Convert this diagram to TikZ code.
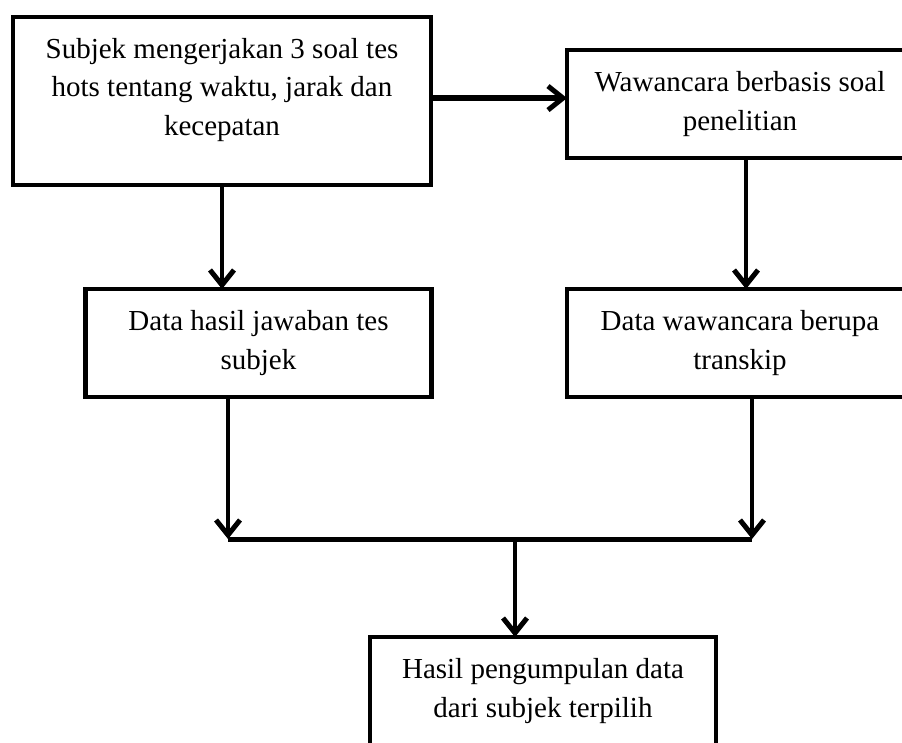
\documentclass[tikz,border=0pt]{standalone}
\usepackage{fontspec}
\setmainfont{Liberation Serif}
\usetikzlibrary{arrows.meta}

\begin{document}
\begin{tikzpicture}[x=1pt,y=-1pt,>={Straight Barb[length=15pt,width=24pt,line width=5pt]},
  box/.style={draw, line width=4.7pt, outer sep=0pt, anchor=north, align=center,
    minimum width=346pt, minimum height=108pt, inner ysep=21pt,
    font=\fontsize{29}{38.5}\selectfont},
  flow/.style={->, line width=4pt}]
  \useasboundingbox (0,0) rectangle (902,743);

  % Tes
  \node[box, minimum width=418pt] (tes) at (222,17) {Subjek mengerjakan 3 soal tes\\hots tentang waktu, jarak dan\\kecepatan\\[-9.5pt]\mbox{}};
  % Wawancara
  \node[box] (wawancara) at (740,50) {Wawancara berbasis soal\\penelitian};

  % Data
  \node[box] (datates) at (258.5,289) {Data hasil jawaban tes\\subjek};
  \node[box] (datawawancara) at (740,289) {Data wawancara berupa\\transkip};

  % Hasil
  \node[box] (hasil) at (543,637) {Hasil pengumpulan data\\dari subjek terpilih};

  % Junction
  \coordinate (gabungkiri) at (228,539);
  \coordinate (gabungkanan) at (752,539);
  \coordinate (gabungtengah) at (515,539);

  % Arrows
  \draw[flow, line width=6pt] ([yshift=3pt]tes.east) -- ([yshift=3pt]tes.east -| wawancara.west);
  \draw[flow] (tes.south) -- (tes.south |- datates.north);
  \draw[flow] ([xshift=6pt]wawancara.south) -- ([xshift=6pt]wawancara.south |- datawawancara.north);
  \draw[flow] (datates.south -| gabungkiri) -- (gabungkiri);
  \draw[flow] (datawawancara.south -| gabungkanan) -- (gabungkanan);
  \draw[line width=5pt] (gabungkiri) -- (gabungkanan);
  \draw[flow] (gabungtengah) -- (gabungtengah |- hasil.north);
\end{tikzpicture}
\end{document}
